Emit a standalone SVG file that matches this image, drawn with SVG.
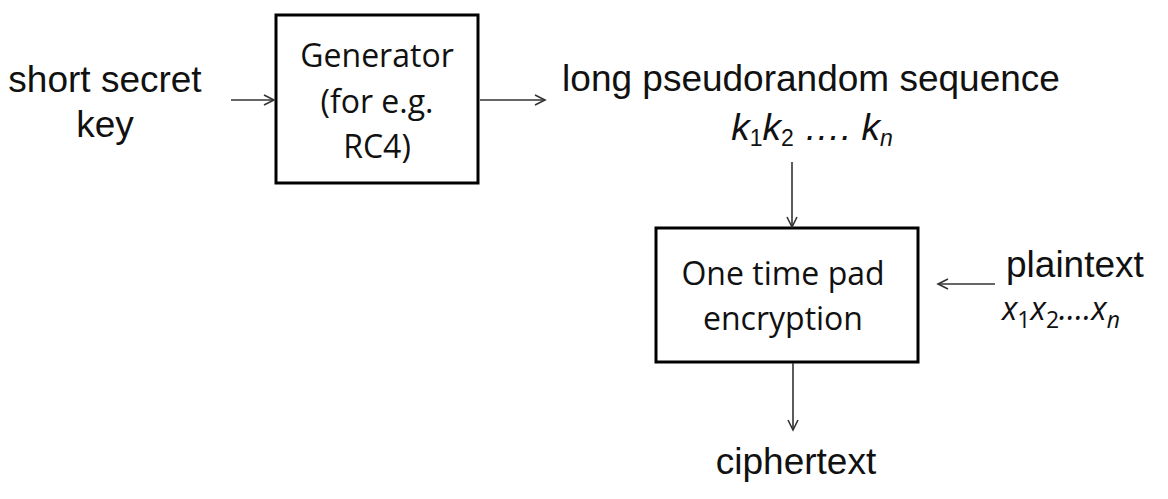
<svg xmlns="http://www.w3.org/2000/svg" width="1168" height="499" viewBox="0 0 1168 499">
<defs>
<marker id="arr" markerWidth="14" markerHeight="14" refX="12" refY="7" orient="auto" markerUnits="userSpaceOnUse">
<path d="M2,2 L12,7 L2,12" fill="none" stroke="#333" stroke-width="1.6"/>
</marker>
<style>
.box{fill:#fff;stroke:#000;stroke-width:3}
.lbl{font-family:"Liberation Sans",Arial,sans-serif;font-size:37px;fill:#111}
.bt{font-family:"Open Sans","Lato",sans-serif;font-size:32px;fill:#111}
.it{font-style:italic}
.sub{font-size:23px}
.up{font-style:normal}
.conn line{stroke:#333;stroke-width:1.6;marker-end:url(#arr)}
</style>
</defs>
<rect width="1168" height="499" fill="#fff"/>
<g id="key-label"><text class="lbl" x="105" y="92" text-anchor="middle">short secret</text><text class="lbl" x="105" y="137" text-anchor="middle">key</text></g>
<g id="generator"><rect class="box" x="276" y="15" width="202" height="168"/>
<text class="bt" x="377" y="67" text-anchor="middle">Generator</text>
<text class="bt" x="377" y="113" text-anchor="middle">(for e.g.</text>
<text class="bt" x="377" y="158" text-anchor="middle">RC4)</text></g>
<g id="sequence"><text class="lbl" x="811" y="91" text-anchor="middle">long pseudorandom sequence</text>
<text class="lbl it" x="812" y="140" text-anchor="middle">k<tspan class="sub up" dy="6">1</tspan><tspan dy="-6">k</tspan><tspan class="sub up" dy="6">2</tspan><tspan dy="-6"> …. k</tspan><tspan class="sub" dy="6">n</tspan></text></g>
<g id="otp"><rect class="box" x="656" y="228" width="262" height="134"/>
<text class="bt" x="783" y="285" text-anchor="middle">One time pad</text>
<text class="bt" x="783" y="330" text-anchor="middle">encryption</text></g>
<g id="plaintext"><text class="lbl" x="1006" y="277">plaintext</text>
<text class="bt it" x="1002" y="320">x<tspan class="sub up" dy="8">1</tspan><tspan dy="-8">x</tspan><tspan class="sub up" dy="8">2</tspan><tspan dy="-8">….x</tspan><tspan class="sub" dy="8">n</tspan></text></g>
<g id="ciphertext"><text class="lbl" x="796" y="474" text-anchor="middle">ciphertext</text></g>
<g id="connectors" class="conn">
<line x1="231" y1="100" x2="274" y2="100"/>
<line x1="480" y1="100" x2="545" y2="100"/>
<line x1="792" y1="162" x2="792" y2="227"/>
<line x1="995" y1="284" x2="938" y2="284"/>
<line x1="793" y1="363" x2="793" y2="430"/>
</g>
</svg>
